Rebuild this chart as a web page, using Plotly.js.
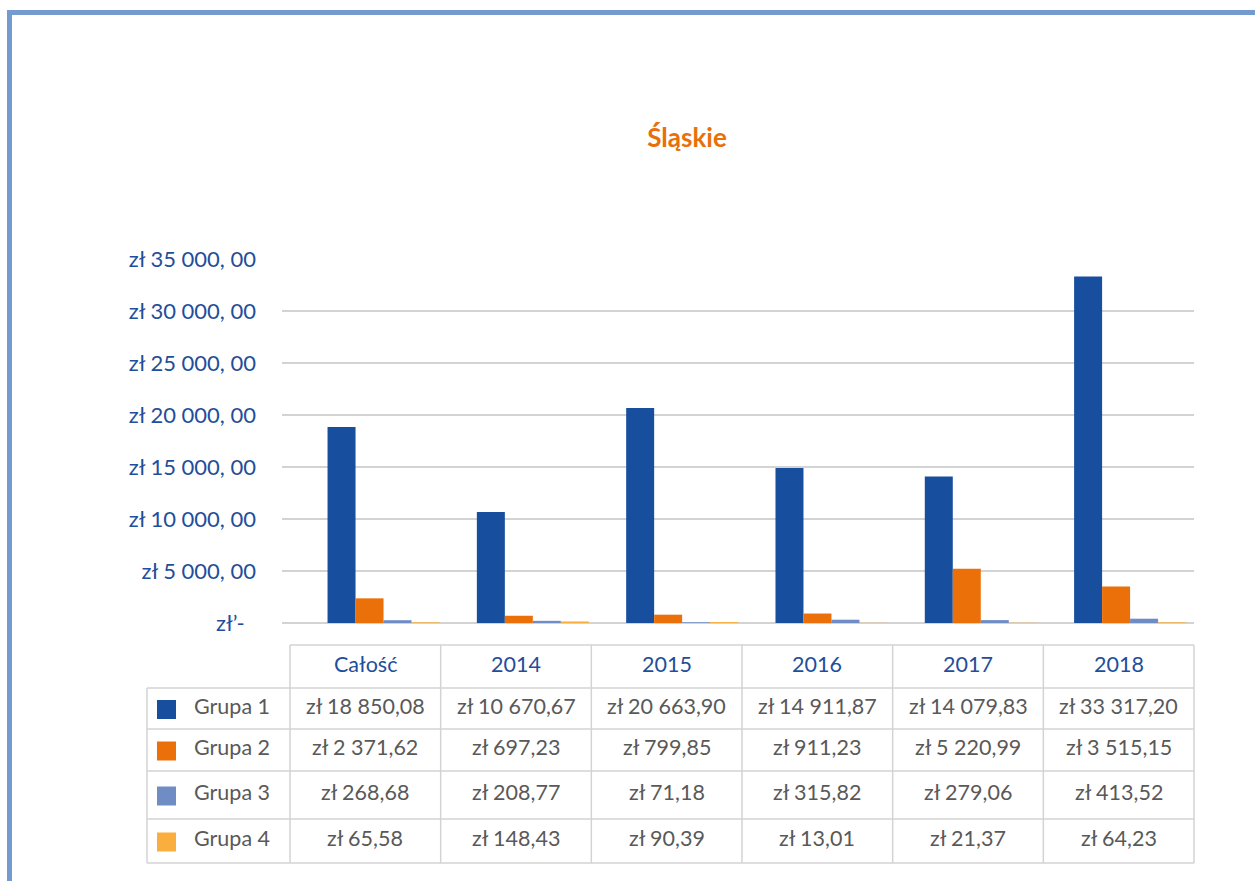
<!DOCTYPE html>
<html>
<head>
<meta charset="utf-8">
<script src="https://cdn.plot.ly/plotly-3.0.1.min.js"></script>
<style>
  html, body { margin: 0; padding: 0; background: #ffffff; }
  #chart { width: 1255px; height: 881px; }
</style>
</head>
<body>
<div id="chart"></div>
<script>
// ---------------- DATA ----------------
const categories = ['Całość', '2014', '2015', '2016', '2017', '2018'];
const seriesNames = ['Grupa 1', 'Grupa 2', 'Grupa 3', 'Grupa 4'];
const grupa1 = [18850.08, 10670.67, 20663.90, 14911.87, 14079.83, 33317.20];
const grupa2 = [2371.62, 697.23, 799.85, 911.23, 5220.99, 3515.15];
const grupa3 = [268.68, 208.77, 71.18, 315.82, 279.06, 413.52];
const grupa4 = [65.58, 148.43, 90.39, 13.01, 21.37, 64.23];
const yTickValues = [0, 5000, 10000, 15000, 20000, 25000, 30000, 35000];
const yTickLabels = ['zł’-\u00A0\u00A0', 'zł 5 000, 00', 'zł 10 000, 00', 'zł 15 000, 00',
                     'zł 20 000, 00', 'zł 25 000, 00', 'zł 30 000, 00', 'zł 35 000, 00'];
const chartTitle = 'Śląskie';

// ---------------- STYLE / LAYOUT CONSTANTS ----------------
const seriesColors = ['#174F9E', '#EB7009', '#6F8DC4', '#FAAE3D'];
const FONT = 'Lato, "Open Sans", sans-serif';
const BLUE_TEXT = '#1F4E9B';
const GRAY_TEXT = '#595959';
const LINE_GRAY = '#D3D3D3';
const TABLE_FONT_SIZE = 21.5;
const W = 1255, H = 881;
const plotL = 282, plotR = 1194, plotT = 259, plotB = 623;
const tableLeft = 147, tableColStart = 290, tableRight = 1194;
const tableRowEdges = [645, 688, 729, 771, 819, 863];
const textShift = -3;

const px2x = px => (px - plotL) / (plotR - plotL);
const px2y = py => (plotB - py) / (plotB - plotT);

function fmtZl(v) {
  const parts = v.toFixed(2).split('.');
  const intPart = parts[0].replace(/\B(?=(\d{3})+(?!\d))/g, ' ');
  return 'zł ' + intPart + ',' + parts[1];
}

const allSeries = [grupa1, grupa2, grupa3, grupa4];

const traces = allSeries.map((vals, i) => ({
  type: 'bar',
  name: seriesNames[i],
  x: categories,
  y: vals,
  marker: { color: seriesColors[i], line: { width: 0 } },
  hoverinfo: 'x+y+name',
  showlegend: false
}));

// ---------------- TABLE (shapes + annotations) ----------------
const shapes = [];
const annotations = [];
const nCols = categories.length;
const colW = (tableRight - tableColStart) / nCols;
const colEdges = [];
for (let c = 0; c <= nCols; c++) colEdges.push(tableColStart + c * colW);

const lineStyle = { color: LINE_GRAY, width: 1.5 };
tableRowEdges.forEach((ry, r) => {
  const x0 = r === 0 ? tableColStart : tableLeft;
  shapes.push({ type: 'line', xref: 'paper', yref: 'paper',
    x0: px2x(x0), x1: px2x(tableRight), y0: px2y(ry), y1: px2y(ry), line: lineStyle });
});
colEdges.forEach(cx => {
  shapes.push({ type: 'line', xref: 'paper', yref: 'paper',
    x0: px2x(cx), x1: px2x(cx), y0: px2y(tableRowEdges[0]), y1: px2y(tableRowEdges[tableRowEdges.length - 1]), line: lineStyle });
});
shapes.push({ type: 'line', xref: 'paper', yref: 'paper',
  x0: px2x(tableLeft), x1: px2x(tableLeft), y0: px2y(tableRowEdges[1]), y1: px2y(tableRowEdges[tableRowEdges.length - 1]), line: lineStyle });

categories.forEach((cat, c) => {
  const cx = (colEdges[c] + colEdges[c + 1]) / 2;
  const cy = (tableRowEdges[0] + tableRowEdges[1]) / 2 + textShift;
  annotations.push({ xref: 'paper', yref: 'paper', x: px2x(cx), y: px2y(cy),
    text: cat, showarrow: false, xanchor: 'center', yanchor: 'middle',
    font: { family: FONT, size: TABLE_FONT_SIZE, color: BLUE_TEXT } });
});

allSeries.forEach((vals, r) => {
  const cyRow = (tableRowEdges[r + 1] + tableRowEdges[r + 2]) / 2;
  const cy = cyRow + textShift;
  shapes.push({ type: 'rect', xref: 'paper', yref: 'paper',
    x0: px2x(157), x1: px2x(176), y0: px2y(cyRow - 9.5 + 1), y1: px2y(cyRow + 9.5 + 1),
    fillcolor: seriesColors[r], line: { width: 0 } });
  annotations.push({ xref: 'paper', yref: 'paper', x: px2x(192), y: px2y(cy),
    text: seriesNames[r], showarrow: false, xanchor: 'left', yanchor: 'middle',
    font: { family: FONT, size: TABLE_FONT_SIZE, color: GRAY_TEXT } });
  vals.forEach((v, c) => {
    const cx = (colEdges[c] + colEdges[c + 1]) / 2;
    annotations.push({ xref: 'paper', yref: 'paper', x: px2x(cx), y: px2y(cy),
      text: fmtZl(v), showarrow: false, xanchor: 'center', yanchor: 'middle',
      font: { family: FONT, size: TABLE_FONT_SIZE, color: GRAY_TEXT } });
  });
});

const frameColor = '#749BCF';
shapes.push({ type: 'rect', xref: 'paper', yref: 'paper', layer: 'above',
  x0: px2x(7), x1: px2x(W + 5), y0: px2y(10), y1: px2y(15),
  fillcolor: frameColor, line: { width: 0 } });
shapes.push({ type: 'rect', xref: 'paper', yref: 'paper', layer: 'above',
  x0: px2x(7), x1: px2x(12), y0: px2y(10), y1: px2y(H + 5),
  fillcolor: frameColor, line: { width: 0 } });

const layout = {
  width: W, height: H,
  paper_bgcolor: '#ffffff', plot_bgcolor: '#ffffff',
  margin: { l: plotL, r: W - plotR, t: plotT, b: H - plotB, pad: 0 },
  title: {
    text: '<b>' + chartTitle + '</b>',
    x: 687 / W, xref: 'container', xanchor: 'center',
    y: 1 - 138 / H, yref: 'container', yanchor: 'middle',
    font: { family: FONT, size: 26, color: '#E8700A' }
  },
  barmode: 'group',
  bargap: 0.25,
  bargroupgap: 0,
  showlegend: false,
  xaxis: {
    type: 'category',
    range: [-0.68, 5.428],
    showticklabels: false, showgrid: false, zeroline: false, showline: false,
    ticks: '', fixedrange: true
  },
  yaxis: {
    range: [0, 35000],
    tickmode: 'array', tickvals: yTickValues, ticktext: yTickLabels,
    showgrid: true, gridcolor: LINE_GRAY, gridwidth: 1.5,
    zeroline: true, zerolinecolor: LINE_GRAY, zerolinewidth: 1.5,
    showline: false, ticks: '',
    ticklabelstandoff: 25,
    tickfont: { family: FONT, size: 22, color: BLUE_TEXT },
    fixedrange: true
  },
  shapes: shapes,
  annotations: annotations
};

Plotly.newPlot('chart', traces, layout, { displayModeBar: false, staticPlot: true });
</script>
</body>
</html>
